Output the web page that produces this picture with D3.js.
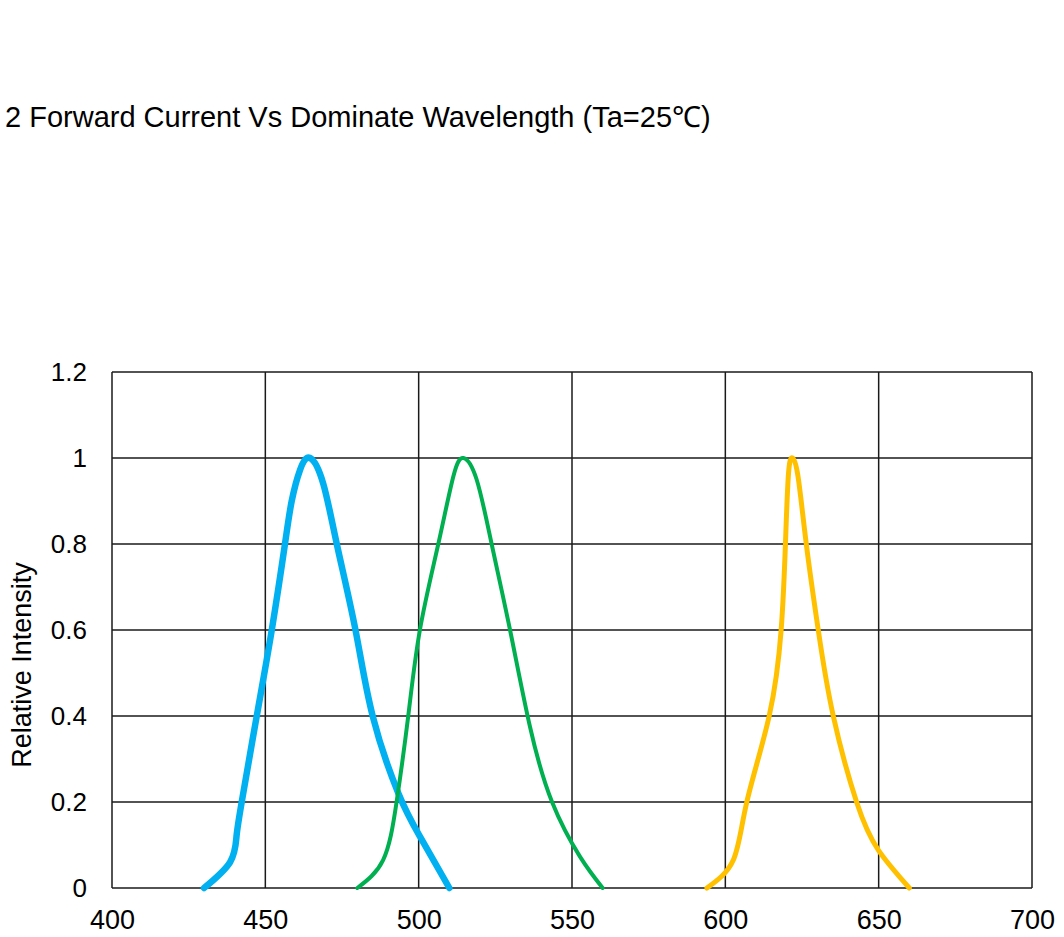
<!DOCTYPE html>
<html>
<head>
<meta charset="utf-8">
<script src="https://cdn.jsdelivr.net/npm/d3@7"></script>
<style>
  body { margin: 0; background: #fff; }
  svg text { font-family: "Liberation Sans", Arial, sans-serif; fill: #000; }
  .grid line { stroke: #1a1a1a; stroke-width: 1.5; }
</style>
</head>
<body>
<div id="chart"></div>
<script>
// wavelength (nm) / relative intensity
var blueX  = [430, 438.5, 440.6, 442.3, 447.2, 452.1, 456.4, 458.6, 461.3, 464.6, 468.9, 473.3, 479.4, 485, 493.4, 500.4, 510];
var blueY  = [0, 0.06, 0.12, 0.2, 0.4, 0.6, 0.8, 0.9, 0.972, 1, 0.94, 0.8, 0.6, 0.4, 0.22, 0.12, 0];
var greenX = [480, 488.4, 492.8, 496.6, 500.4, 506.4, 511.3, 514.6, 518.9, 523.8, 529.8, 536.3, 543.5, 552.6, 560];
var greenY = [0, 0.065, 0.2, 0.4, 0.6, 0.8, 0.957, 1, 0.95, 0.8, 0.6, 0.375, 0.2, 0.073, 0];
var yellowX = [594, 602.6, 607, 614.3, 618.2, 619.6, 620.6, 621.9, 623.7, 626.4, 630.3, 635.2, 642.8, 649.9, 660];
var yellowY = [0, 0.065, 0.2, 0.4, 0.6, 0.8, 0.964, 1, 0.957, 0.8, 0.6, 0.4, 0.2, 0.088, 0];

var xTicks = [400, 450, 500, 550, 600, 650, 700];
var yTicks = [0, 0.2, 0.4, 0.6, 0.8, 1, 1.2];

var series = [
  { xs: blueX, ys: blueY, color: "#00b0f0", w: 6.5 },
  { xs: greenX, ys: greenY, color: "#00b050", w: 4 },
  { xs: yellowX, ys: yellowY, color: "#ffc000", w: 5 }
];

var width = 1064, height = 937;
var margin = {top: 372, right: 32, bottom: 49, left: 112};

var svg = d3.select("#chart").append("svg")
  .attr("width", width)
  .attr("height", height);

svg.append("text")
  .attr("x", 5)
  .attr("y", 127)
  .style("font-size", "29px")
  .text("2 Forward Current Vs Dominate Wavelength (Ta=25\u2103)");

var x = d3.scaleLinear().domain([400, 700]).range([margin.left, width - margin.right]);
var y = d3.scaleLinear().domain([0, 1.2]).range([height - margin.bottom, margin.top]);

// grid
var grid = svg.append("g").attr("class", "grid");
grid.selectAll("line.v").data(xTicks).enter().append("line")
  .attr("class", "v")
  .attr("x1", function(d) { return x(d); }).attr("x2", function(d) { return x(d); })
  .attr("y1", y(0)).attr("y2", y(1.2));
grid.selectAll("line.h").data(yTicks).enter().append("line")
  .attr("class", "h")
  .attr("x1", x(400)).attr("x2", x(700))
  .attr("y1", function(d) { return y(d); }).attr("y2", function(d) { return y(d); });

var xAxis = d3.axisBottom(x).tickValues(xTicks).tickSize(0).tickPadding(22);
var yAxis = d3.axisLeft(y).tickValues(yTicks).tickSize(0).tickPadding(25)
  .tickFormat(function(d) { return d === 0 || d === 1 ? d3.format("d")(d) : d3.format(".1f")(d); });

var gx = svg.append("g").attr("transform", "translate(0," + y(0) + ")").call(xAxis);
var gy = svg.append("g").attr("transform", "translate(" + x(400) + ",0)").call(yAxis);
gx.select(".domain").remove();
gy.select(".domain").remove();
gx.selectAll("text").style("font-size", "27px").attr("fill", "#000");
gy.selectAll("text").style("font-size", "26px").attr("fill", "#000");

svg.append("text")
  .attr("transform", "translate(31,665) rotate(-90)")
  .attr("text-anchor", "middle")
  .style("font-size", "27px")
  .text("Relative Intensity");

var line = d3.line()
  .x(function(d) { return x(d[0]); })
  .y(function(d) { return y(d[1]); })
  .curve(d3.curveNatural);

series.forEach(function(s) {
  var pts = s.xs.map(function(v, i) { return [v, s.ys[i]]; });
  svg.append("path")
    .datum(pts)
    .attr("d", line)
    .attr("fill", "none")
    .attr("stroke", s.color)
    .attr("stroke-width", s.w)
    .attr("stroke-linecap", "round")
    .attr("stroke-linejoin", "round");
});
</script>
</body>
</html>
